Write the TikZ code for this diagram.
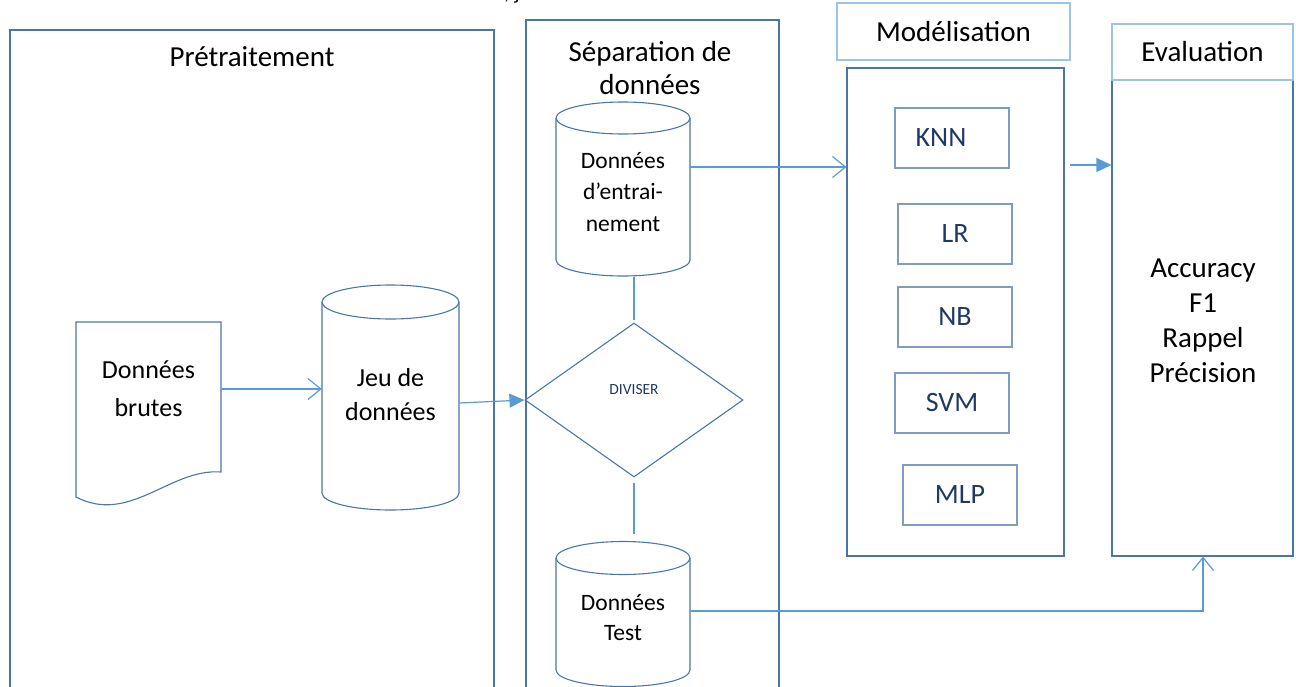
\documentclass[tikz,border=0pt]{standalone}
\usepackage{fontspec}
\setmainfont{Carlito}
\usetikzlibrary{shapes.geometric,arrows.meta}
\definecolor{boxline}{HTML}{4A76A8}
\definecolor{headline}{HTML}{9DC3E6}
\definecolor{connc}{HTML}{5B9BD5}
\definecolor{mline}{HTML}{7F9DBF}
\definecolor{navy}{HTML}{1F3864}
\newcommand\cylshape[5]{% cx, ytop, ybot, rx, ry
  \draw[cylline] ({#1-#4},#2) -- ({#1-#4},#3) arc[start angle=180,end angle=360,x radius=#4pt,y radius=#5pt] -- ({#1+#4},#2);
  \draw[cylline] (#1,#2) ellipse[x radius=#4pt,y radius=#5pt];
}
\begin{document}
\begin{tikzpicture}[x=1pt,y=-1pt,
  container/.style={draw=boxline,line width=1.1pt},
  cylline/.style={draw=boxline,line width=1.1pt},
  headbox/.style={draw=headline,line width=2.6pt,inner sep=0pt,font=\fontsize{29pt}{35pt}\selectfont},
  bodybox/.style={draw=boxline,line width=1.1pt,inner sep=0pt},
  mbox/.style={draw=mline,line width=1.1pt,minimum width=114pt,minimum height=60pt,inner sep=0pt,text=navy,font=\fontsize{28pt}{34pt}\selectfont},
  conn/.style={draw=connc,line width=1.2pt},
  openarr/.style={-{Straight Barb[length=13pt,width=21pt,line width=1.2pt]}},
  fillarr/.style={-{Triangle[length=15pt,width=14pt]}},
  txt/.style={inner sep=0pt,align=center}
]
\useasboundingbox (0,0) rectangle (1296,686);
\clip (0,0) rectangle (1296,686);

% stray glyph at top
\node[anchor=base,inner sep=0pt,font=\fontsize{22pt}{26pt}\selectfont] (stray) at (512,-1) {, j};

% containers
\draw[container] (10,690) -- (10,30) -- (494,30) -- (494,690);
\node[txt,font=\fontsize{29pt}{35pt}\selectfont] (pre) at (252,57) {Prétraitement};
\draw[container] (526,690) -- (526,20) -- (779,20) -- (779,690);
\node[txt,font=\fontsize{29pt}{33pt}\selectfont] (sep) at (650,68) {Séparation de\\données};

% modelisation
\node[bodybox,minimum width=217pt,minimum height=488pt] (modele) at (955.5,312) {};
\node[headbox,minimum width=233pt,minimum height=57pt] (modhead) at (953.5,31.5) {Modélisation};
% evaluation
\node[bodybox,minimum width=181pt,minimum height=476pt] (eval) at (1202.5,318) {};
\node[headbox,minimum width=181pt,minimum height=56pt] (evalhead) at (1202.5,52) {Evaluation};
\node[txt,font=\fontsize{29pt}{35pt}\selectfont] (metrics) at (1203,321) {Accuracy\\F1\\Rappel\\Précision};

% models
\node[mbox] (knn) at (952,138) {KNN\hspace*{22pt}};
\node[mbox] (lr) at (955,234) {LR};
\node[mbox] (nb) at (955,317) {NB};
\node[mbox] (svm) at (952,403) {SVM};
\node[mbox] (mlp) at (960,495) {MLP};

% document shape
\draw[container] (76,322) -- (221,322) -- (221,472) .. controls (170,468) and (130,525) .. (76,497) -- cycle;
\node[txt,minimum width=145pt,font=\fontsize{26pt}{38pt}\selectfont] (brutes) at (148.5,389) {Données\\brutes};

% jeu de donnees cylinder
\cylshape{390.5}{302}{493}{68.5}{17}
\node[txt,minimum width=137pt,font=\fontsize{26pt}{34pt}\selectfont] (jeu) at (390.5,395) {Jeu de\\données};

% training cylinder
\cylshape{623}{118}{260}{67}{16}
\node[txt,minimum width=134pt,minimum height=170pt,font=\fontsize{23.5pt}{31.5pt}\selectfont] (train) at (623,192) {Données\\d’entrai-\\nement};

% test cylinder
\cylshape{623}{558}{670}{67}{16.5}
\node[txt,minimum width=134pt,font=\fontsize{23.5pt}{30pt}\selectfont] (test) at (623,618) {Données\\Test};

% diamond
\node[diamond,draw=boxline,line width=1.1pt,minimum width=218pt,minimum height=154pt,inner sep=0pt] (div) at (634,400) {};
\node[txt,text=navy,font=\fontsize{15.5pt}{18pt}\selectfont] (divtxt) at (634,390) {DIVISER};

% connectors
\draw[conn,openarr] (brutes.east) -- (brutes.east -| jeu.west);
\draw[conn,fillarr] (jeu.east |- 0,403) -- (div.west);
\draw[conn] (div.north |- 0,277) -- ([yshift=2pt]div.north);
\draw[conn] ([yshift=-5pt]div.south) -- ([yshift=-56pt]div.south);
\draw[conn,openarr] ([yshift=25pt]train.east) -- ([yshift=25pt]train.east -| modele.west);
\coordinate (m2e) at (1070,165);
\draw[conn,fillarr] (m2e) -- (m2e -| eval.west);
\coordinate (corner) at (1203,611);
\draw[conn,openarr] (test.east |- corner) -- (corner) -- (corner |- eval.south);
\end{tikzpicture}
\end{document}
